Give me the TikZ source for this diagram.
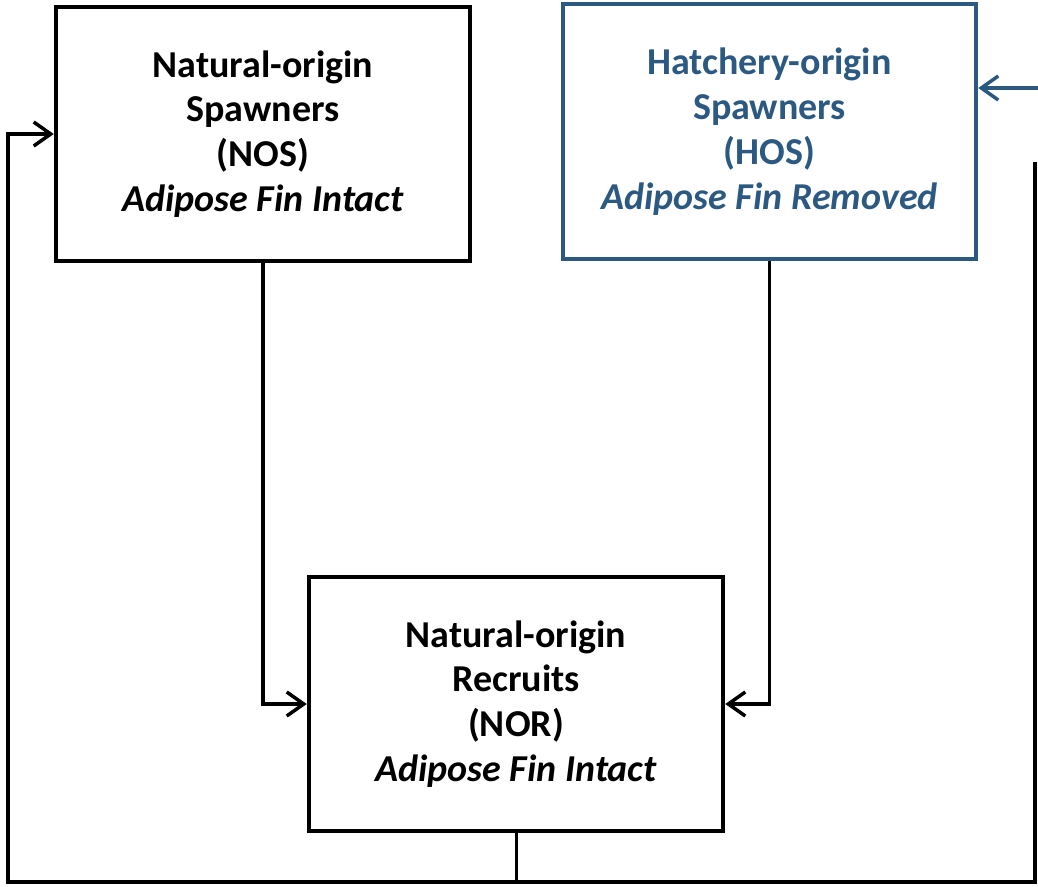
\documentclass[tikz,border=0pt]{standalone}
\usepackage{fontspec}
\setmainfont{Carlito}
\usetikzlibrary{arrows.meta}
\definecolor{hosblue}{RGB}{44,89,130}
\begin{document}
\begin{tikzpicture}[x=1pt,y=-1pt,
  box/.style={draw,line width=4.5pt,minimum width=414pt,minimum height=254pt,
    align=center,inner sep=0pt,font=\fontsize{38}{44.8}\selectfont\bfseries},
  conn/.style={line width=3.5pt,-{Straight Barb[length=17pt,width=24pt]}},
  plain/.style={line width=3pt}]
\useasboundingbox (0,0) rectangle (1038,886);
\node[box] (nos) at (263,134) {Natural-origin\\Spawners\\(NOS)\\\textit{Adipose Fin Intact}};
\node[box,draw=hosblue,text=hosblue,minimum width=413pt,minimum height=255pt] (hos) at (769.5,131.5) {Hatchery-origin\\Spawners\\(HOS)\\\textit{Adipose Fin Removed}};
\node[box] (nor) at (516,704) {Natural-origin\\Recruits\\(NOR)\\\textit{Adipose Fin Intact}};
\coordinate (bl) at (8,882);
\coordinate (rtop) at (1035,162);
\coordinate (hin) at (1045,88);
\draw[conn] (nos.south) |- (nor.west);
\draw[conn] (hos.south) |- (nor.east);
\draw[plain] (nor.south) -- (nor.south |- bl);
\draw[conn] (rtop) |- (bl) |- (nos.west);
\draw[conn,hosblue] (hin) -- (hin -| hos.east);
\end{tikzpicture}
\end{document}
